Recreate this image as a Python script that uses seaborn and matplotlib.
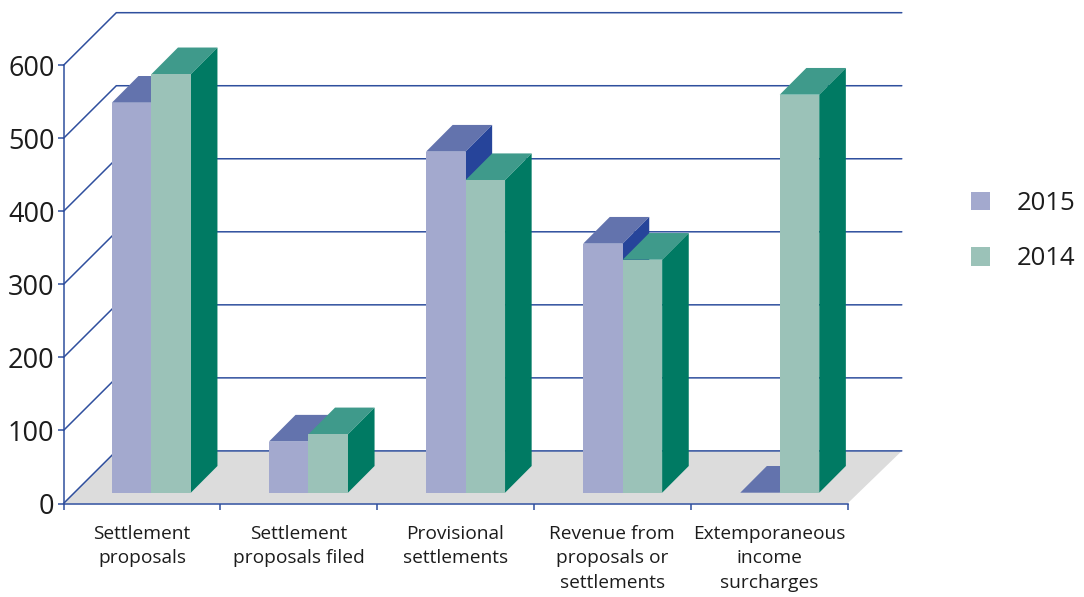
import matplotlib
matplotlib.use("Agg")
import matplotlib.pyplot as plt
import pandas as pd
import seaborn as sns
from matplotlib.patches import Polygon

categories = [
    "Settlement\nproposals",
    "Settlement\nproposals filed",
    "Provisional\nsettlements",
    "Revenue from\nproposals or\nsettlements",
    "Extemporaneous\nincome\nsurcharges",
]
values_2015 = [534, 70, 467, 341, 0]
values_2014 = [573, 80, 428, 319, 545]
y_ticks = [0, 100, 200, 300, 400, 500, 600]

front_colors = {"2015": "#a3a9ce", "2014": "#9bc2b8"}
top_colors = {"2015": "#6373ad", "2014": "#3f9a8b"}
side_colors = {"2015": "#26449a", "2014": "#007a63"}
line_color = "#2f4f9e"
floor_color = "#dcdcdc"
text_color = "#1c1c1c"

sns.set_style("white")
plt.rcParams["font.family"] = ["Open Sans", "DejaVu Sans"]

W, H = 1084, 597
fig = plt.figure(figsize=(W / 100, H / 100), dpi=100)
# Plot area in pixels: the front edge of the floor and the height of the front axis
left_px, right_px, bottom_px, top_px = 63.5, 849.0, 503.5, 65.3
ax = fig.add_axes([left_px / W, 1 - bottom_px / H,
                   (right_px - left_px) / W, (bottom_px - top_px) / H])
ax.patch.set_alpha(0)

px_x = (right_px - left_px) / len(categories)   # pixels per category
px_y = (bottom_px - top_px) / 600               # pixels per unit of value

table = pd.DataFrame({
    "category": categories * 2,
    "value": values_2015 + values_2014,
    "year": ["2015"] * len(categories) + ["2014"] * len(categories),
})

sns.barplot(data=table, x="category", y="value", hue="year",
            hue_order=["2015", "2014"], palette=front_colors, saturation=1,
            width=79.0 / px_x, gap=0, dodge=True, ax=ax, linewidth=0, legend=True)

# Bars stand slightly inside the floor, shifted along its depth
shift_x, shift_y = 9.3 / px_x, 10.8 / px_y
ax.set_xlim(-0.5 - shift_x, len(categories) - 0.5 - shift_x)
ax.set_ylim(0, 600)

# Axis ticks run on a slightly tighter pitch than the bars
tick_step = 156.8 / px_x
x0 = ax.get_xlim()[0]
x1 = x0 + tick_step * len(categories)

# Back wall grid and floor
wall_x, wall_y = 54.3 / px_x, 52.6 / px_y
ax.add_patch(Polygon([(x0, 0), (x1, 0), (x1 + wall_x, wall_y), (x0 + 52.8 / px_x, wall_y)],
                     closed=True, facecolor=floor_color, edgecolor="none",
                     clip_on=False, zorder=1))
for tick in y_ticks:
    ax.plot([x0, x0 + 52.8 / px_x, x1 + wall_x], [tick, tick + wall_y, tick + wall_y],
            color=line_color, lw=1.1, clip_on=False, zorder=1.5, solid_joinstyle="miter")

# Extrude each front face into a box
depth_x, depth_y = 26.6 / px_x, 26.7 / px_y
for idx, (year, container) in enumerate(zip(["2015", "2014"], ax.containers)):
    for bar in container:
        bar.set_y(shift_y)
        bar.set_clip_on(False)
        bar.set_zorder(3.5 + idx)
        xa, xb = bar.get_x(), bar.get_x() + bar.get_width()
        y_low, y_high = shift_y, shift_y + bar.get_height()
        ax.add_patch(Polygon([(xa, y_high), (xb, y_high),
                              (xb + depth_x, y_high + depth_y), (xa + depth_x, y_high + depth_y)],
                             closed=True, facecolor=top_colors[year], edgecolor="none",
                             clip_on=False, zorder=3 + idx))
        ax.add_patch(Polygon([(xb, y_low), (xb + depth_x, y_low + depth_y),
                              (xb + depth_x, y_high + depth_y), (xb, y_high)],
                             closed=True, facecolor=side_colors[year], edgecolor="none",
                             clip_on=False, zorder=3 + idx))

# Axes
for name in ("top", "right"):
    ax.spines[name].set_visible(False)
for name in ("left", "bottom"):
    ax.spines[name].set_color(line_color)
    ax.spines[name].set_linewidth(1.1)
    ax.spines[name].set_zorder(6)
ax.spines["bottom"].set_bounds(x0, x1)

ax.set_xlabel("")
ax.set_ylabel("")
ax.set_yticks(y_ticks)
ax.tick_params(axis="y", which="major", left=True, length=4.5, width=1.1, color=line_color,
               labelsize=19.5, labelcolor=text_color, pad=2)
boundaries = [x0 + i * tick_step for i in range(len(categories) + 1)]
ax.set_xticks(boundaries)
ax.set_xticklabels([])
ax.set_xticks([x0 + (i + 0.5) * tick_step for i in range(len(categories))], minor=True)
ax.set_xticklabels(categories, minor=True, fontsize=13.8, color=text_color, linespacing=1.46)
ax.tick_params(axis="x", which="major", bottom=True, length=4.5, width=1.1, color=line_color)
ax.tick_params(axis="x", which="minor", bottom=False, length=0, pad=15.5)

handles, labels = ax.get_legend_handles_labels()
ax.legend(handles, labels, loc="center left",
          bbox_to_anchor=(971 / W, 1 - 231 / H), bbox_transform=fig.transFigure,
          frameon=False, fontsize=18.5, labelcolor=text_color, borderpad=0, borderaxespad=0,
          handlelength=0.74, handleheight=0.74, handletextpad=1.05, labelspacing=1.18)

fig.savefig("out.png", dpi=100, facecolor="white")
